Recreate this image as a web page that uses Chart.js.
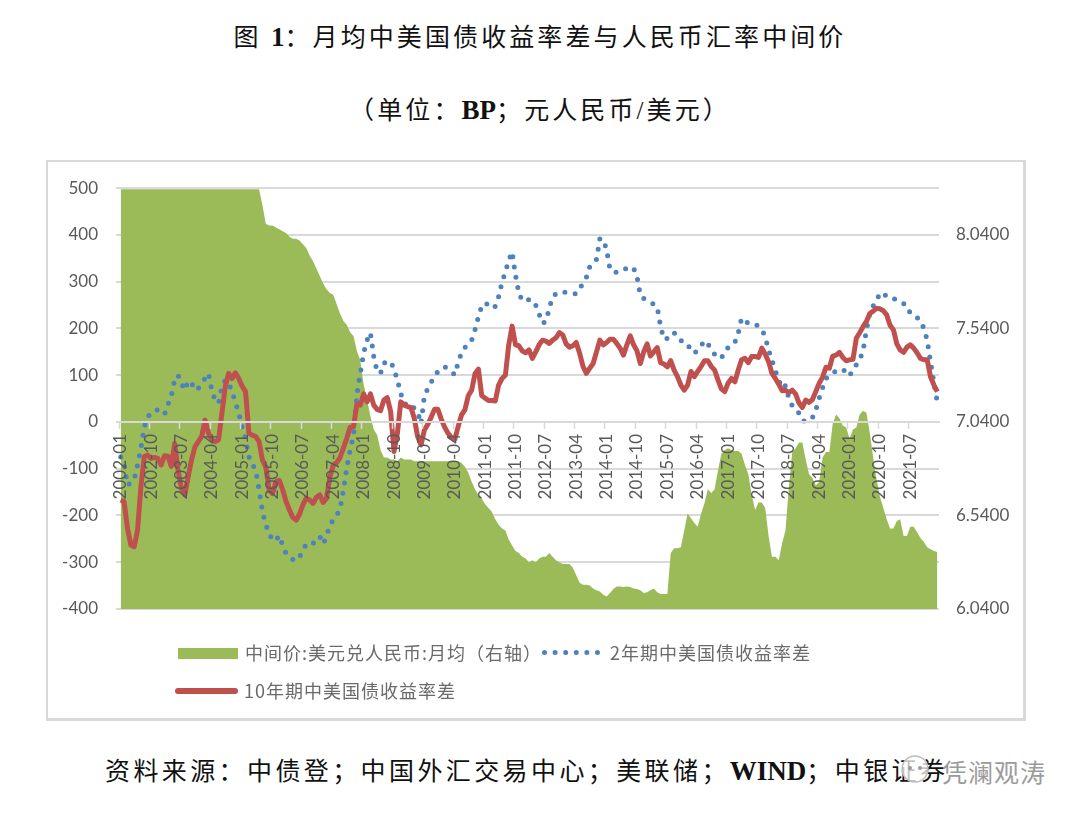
<!DOCTYPE html>
<html>
<head>
<meta charset="utf-8">
<script src="https://cdn.jsdelivr.net/npm/chart.js@4/dist/chart.umd.min.js"></script>
<style>
  body { margin: 0; background: #fff; }
  #page { position: relative; width: 1080px; height: 820px; overflow: hidden; background: #fff; }
  .head { position: absolute; left: 0; width: 1080px; text-align: center; white-space: nowrap; color: #111;
          font-family: "Liberation Serif", "Noto Sans CJK SC", serif; font-size: 25px; letter-spacing: 3.1px; }
  .head b { font-size: 27px; letter-spacing: 0; }
  #box { position: absolute; left: 46px; top: 160px; width: 975px; height: 556px; border: 2px solid #d9d9d9; border-width: 2px 3px 3px 2px; }
  #box canvas { display: block; position: absolute; left: 0; top: -2px; }
  .leg { position: absolute; color: #6a6a6a; font: 18px "Noto Sans CJK SC", sans-serif; letter-spacing: 1px; white-space: nowrap; }
  .sw { position: absolute; }
  #mark { position: absolute; left: 942px; top: 753px; color: #8a8a8a; opacity: .85; letter-spacing: 1px; font: 25px "Noto Sans CJK SC", sans-serif; white-space: nowrap; }
</style>
</head>
<body>
<div id="page">
  <div class="head" style="top:17px">图 <b>1</b>：月均中美国债收益率差与人民币汇率中间价</div>
  <div class="head" style="top:90px">（单位：<b>BP</b>；元人民币/美元）</div>
  <div id="box"><canvas id="chart" width="975" height="558"></canvas></div>
  <div class="sw" style="left:178px;top:648px;width:60px;height:11px;background:#9bbb59"></div>
  <div class="leg" id="leg0" style="left:245px;top:639px"></div>
  <div class="sw" style="left:542px;top:650px;width:58px;border-top:5px dotted #4f81bd"></div>
  <div class="leg" id="leg1" style="left:610px;top:639px"></div>
  <div class="sw" style="left:175px;top:688px;width:63px;height:6px;border-radius:3px;background:#c0504d"></div>
  <div class="leg" id="leg2" style="left:244px;top:677px"></div>
  <div class="head" style="top:751px;left:105px;width:auto;letter-spacing:3.4px">资料来源：中债登；中国外汇交易中心；美联储；<b>WIND</b>；中银证券</div>
  <svg style="position:absolute;left:897px;top:753px" width="42" height="36">
    <circle cx="18" cy="16" r="13" fill="rgba(255,255,255,.75)" stroke="#bdbdbd" stroke-width="1.5"/>
    <circle cx="13" cy="15" r="2" fill="#9a9a9a"/><circle cx="23" cy="15" r="2" fill="#9a9a9a"/>
  </svg>
  <div id="mark">凭澜观涛</div>
</div>
<script>
const months = [
  '2002-01','2002-02','2002-03','2002-04','2002-05','2002-06','2002-07','2002-08','2002-09','2002-10','2002-11','2002-12',
  '2003-01','2003-02','2003-03','2003-04','2003-05','2003-06','2003-07','2003-08','2003-09','2003-10','2003-11','2003-12',
  '2004-01','2004-02','2004-03','2004-04','2004-05','2004-06','2004-07','2004-08','2004-09','2004-10','2004-11','2004-12',
  '2005-01','2005-02','2005-03','2005-04','2005-05','2005-06','2005-07','2005-08','2005-09','2005-10','2005-11','2005-12',
  '2006-01','2006-02','2006-03','2006-04','2006-05','2006-06','2006-07','2006-08','2006-09','2006-10','2006-11','2006-12',
  '2007-01','2007-02','2007-03','2007-04','2007-05','2007-06','2007-07','2007-08','2007-09','2007-10','2007-11','2007-12',
  '2008-01','2008-02','2008-03','2008-04','2008-05','2008-06','2008-07','2008-08','2008-09','2008-10','2008-11','2008-12',
  '2009-01','2009-02','2009-03','2009-04','2009-05','2009-06','2009-07','2009-08','2009-09','2009-10','2009-11','2009-12',
  '2010-01','2010-02','2010-03','2010-04','2010-05','2010-06','2010-07','2010-08','2010-09','2010-10','2010-11','2010-12',
  '2011-01','2011-02','2011-03','2011-04','2011-05','2011-06','2011-07','2011-08','2011-09','2011-10','2011-11','2011-12',
  '2012-01','2012-02','2012-03','2012-04','2012-05','2012-06','2012-07','2012-08','2012-09','2012-10','2012-11','2012-12',
  '2013-01','2013-02','2013-03','2013-04','2013-05','2013-06','2013-07','2013-08','2013-09','2013-10','2013-11','2013-12',
  '2014-01','2014-02','2014-03','2014-04','2014-05','2014-06','2014-07','2014-08','2014-09','2014-10','2014-11','2014-12',
  '2015-01','2015-02','2015-03','2015-04','2015-05','2015-06','2015-07','2015-08','2015-09','2015-10','2015-11','2015-12',
  '2016-01','2016-02','2016-03','2016-04','2016-05','2016-06','2016-07','2016-08','2016-09','2016-10','2016-11','2016-12',
  '2017-01','2017-02','2017-03','2017-04','2017-05','2017-06','2017-07','2017-08','2017-09','2017-10','2017-11','2017-12',
  '2018-01','2018-02','2018-03','2018-04','2018-05','2018-06','2018-07','2018-08','2018-09','2018-10','2018-11','2018-12',
  '2019-01','2019-02','2019-03','2019-04','2019-05','2019-06','2019-07','2019-08','2019-09','2019-10','2019-11','2019-12',
  '2020-01','2020-02','2020-03','2020-04','2020-05','2020-06','2020-07','2020-08','2020-09','2020-10','2020-11','2020-12',
  '2021-01','2021-02','2021-03','2021-04','2021-05','2021-06','2021-07','2021-08','2021-09','2021-10','2021-11','2021-12',
  '2022-01','2022-02','2022-03'
];

// 中间价, right axis
const midRate = [
  8.285,8.285,8.285,8.285,8.285,8.285,8.285,8.285,8.285,8.285,8.285,8.285,
  8.285,8.285,8.285,8.285,8.285,8.285,8.285,8.285,8.285,8.285,8.285,8.285,
  8.285,8.285,8.285,8.285,8.285,8.285,8.285,8.285,8.285,8.285,8.285,8.285,
  8.285,8.285,8.285,8.285,8.285,8.285,8.20,8.10,8.09,8.09,8.08,8.07,
  8.06,8.05,8.03,8.02,8.02,8.01,7.99,7.97,7.93,7.90,7.86,7.82,
  7.78,7.75,7.73,7.72,7.67,7.62,7.58,7.56,7.52,7.50,7.42,7.37,
  7.24,7.16,7.07,7.00,6.97,6.89,6.85,6.85,6.84,6.84,6.83,6.85,
  6.84,6.84,6.84,6.83,6.83,6.83,6.83,6.83,6.83,6.83,6.83,6.83,
  6.83,6.83,6.83,6.83,6.83,6.82,6.80,6.77,6.72,6.68,6.65,6.63,
  6.60,6.58,6.56,6.52,6.49,6.47,6.46,6.41,6.38,6.35,6.34,6.32,
  6.31,6.29,6.30,6.29,6.31,6.32,6.32,6.34,6.32,6.30,6.29,6.28,
  6.28,6.28,6.26,6.22,6.18,6.17,6.17,6.165,6.15,6.14,6.134,6.116,
  6.107,6.125,6.147,6.16,6.16,6.157,6.16,6.157,6.15,6.147,6.14,6.125,
  6.13,6.14,6.15,6.13,6.12,6.12,6.12,6.34,6.365,6.365,6.37,6.46,
  6.55,6.525,6.50,6.48,6.55,6.605,6.68,6.66,6.68,6.78,6.87,6.89,
  6.90,6.89,6.885,6.885,6.87,6.81,6.76,6.65,6.57,6.61,6.61,6.58,
  6.43,6.32,6.32,6.30,6.39,6.46,6.69,6.88,6.90,6.93,6.93,6.84,
  6.76,6.74,6.70,6.72,6.85,6.88,6.88,7.03,7.08,7.06,7.02,7.01,
  6.95,7.00,7.01,7.08,7.10,7.09,6.98,6.85,6.73,6.64,6.58,6.52,
  6.47,6.47,6.51,6.52,6.43,6.43,6.48,6.48,6.45,6.42,6.40,6.37,
  6.36,6.35,6.345
];

// 2年期利差, BP
const spread2y = [
  -75,-88,-135,-131,-123,-92,-56,-11,10,21,24,26,
  21,16,37,56,90,100,83,68,88,84,68,72,
  83,93,104,68,47,40,76,90,83,65,42,19,
  -11,-35,-74,-90,-103,-145,-191,-220,-238,-254,-253,-243,
  -264,-281,-288,-294,-297,-288,-277,-260,-260,-260,-249,-245,
  -261,-245,-220,-210,-199,-187,-145,-98,-60,-28,58,103,
  148,175,191,140,108,104,126,128,130,113,90,61,
  40,36,38,29,21,-4,56,71,85,97,108,113,
  118,113,108,101,127,148,159,167,175,197,225,248,
  255,250,243,247,268,299,321,346,364,314,276,259,
  259,262,261,250,231,211,215,243,268,274,278,278,
  277,277,275,274,284,297,309,332,339,348,392,391,
  368,326,321,320,321,325,329,332,329,311,271,264,
  259,255,252,246,204,177,179,190,190,186,175,164,
  163,158,147,154,163,174,167,154,145,141,136,153,
  159,162,170,190,222,215,212,211,210,204,198,182,
  154,132,110,90,72,78,51,35,27,19,3,1,
  3,9,26,51,73,93,98,105,109,111,113,105,
  98,113,122,133,152,197,232,248,262,274,277,267,
  265,264,261,257,253,249,232,227,223,217,200,175,
  129,83,42
];

// 10年期利差, BP
const spread10y = [
  -167,-170,-227,-263,-267,-231,-138,-74,-71,-78,-76,-78,
  -92,-72,-73,-95,-46,-103,-142,-156,-117,-81,-53,-42,
  -31,4,-24,-38,-42,-38,19,76,104,93,105,93,
  76,65,-24,-28,-31,-42,-81,-96,-145,-153,-128,-125,
  -145,-170,-188,-204,-210,-197,-177,-163,-167,-174,-161,-156,
  -172,-163,-117,-92,-87,-76,-56,-35,-11,-10,38,36,
  60,43,60,36,27,24,47,52,22,-63,-24,43,
  36,33,31,8,-31,-49,-17,-5,10,27,27,6,
  -11,-24,-33,-37,-10,15,26,56,68,103,113,56,
  51,46,46,45,79,93,100,165,205,165,163,152,
  148,154,136,150,165,175,173,168,175,180,191,186,
  167,160,163,170,147,119,104,115,125,150,175,165,
  170,177,177,168,158,143,165,184,165,152,125,150,
  167,141,150,159,127,124,118,131,111,97,79,68,
  79,108,97,108,119,131,131,119,111,90,71,65,
  83,93,86,111,133,136,127,140,140,138,158,145,
  129,104,93,81,67,68,63,68,60,41,31,47,
  42,48,65,83,96,117,115,141,143,149,138,131,
  133,134,179,191,204,215,232,237,243,242,238,229,
  207,197,167,154,149,160,165,158,148,136,133,133,
  96,79,65
];

const leftTicks = [-400,-300,-200,-100,0,100,200,300,400,500];
const rightTicks = [6.04,6.54,7.04,7.54,8.04];
const seriesNames = ['中间价:美元兑人民币:月均（右轴）','2年期中美国债收益率差','10年期中美国债收益率差'];

seriesNames.forEach(function(name, i){
  document.getElementById('leg' + i).textContent = name;
});

const axisFont = { family: 'Lato', size: 17 };
const textColor = '#595959';
const gridColor = '#d9d9d9';

new Chart(document.getElementById('chart').getContext('2d'), {
  type: 'line',
  data: {
    labels: months,
    datasets: [
      {
        label: seriesNames[2],
        data: spread10y,
        yAxisID: 'y',
        borderColor: '#c0504d',
        borderWidth: 5,
        borderJoinStyle: 'round',
        pointRadius: 0,
        tension: 0,
        order: 1
      },
      {
        label: seriesNames[1],
        data: spread2y,
        yAxisID: 'y',
        borderColor: '#4f81bd',
        borderWidth: 5,
        borderDash: [0, 10.4],
        borderCapStyle: 'round',
        pointRadius: 0,
        tension: 0,
        order: 2
      },
      {
        label: seriesNames[0],
        data: midRate,
        yAxisID: 'y1',
        borderWidth: 0,
        backgroundColor: '#9bbb59',
        fill: 'start',
        pointRadius: 0,
        tension: 0,
        order: 3
      }
    ]
  },
  options: {
    responsive: false,
    animation: false,
    layout: { padding: { top: 21, bottom: 109 } },
    plugins: { legend: { display: false }, title: { display: false }, tooltip: { enabled: false } },
    scales: {
      x: {
        type: 'category',
        position: { y: 0 },
        offset: true,
        grid: {
          z: 1,
          offset: true,
          drawOnChartArea: false,
          tickLength: 6,
          tickWidth: 1.5,
          tickColor: function(ctx){ return ctx.index % 9 === 0 ? gridColor : 'transparent'; }
        },
        border: { z: 1, color: gridColor, width: 2 },
        ticks: {
          z: 1,
          autoSkip: false,
          minRotation: 90,
          maxRotation: 90,
          padding: 6,
          color: textColor,
          font: axisFont,
          callback: function(v, i){ return i % 9 === 0 ? months[i] : ''; }
        }
      },
      y: {
        min: -400,
        max: 500,
        afterBuildTicks: function(scale){ scale.ticks = leftTicks.map(function(v){ return { value: v }; }); },
        afterFit: function(scale){ scale.width = 71; },
        grid: { color: gridColor, lineWidth: 2, tickLength: 3 },
        border: { display: false },
        ticks: { color: textColor, font: axisFont, padding: 18 }
      },
      y1: {
        position: 'right',
        min: 6.04,
        max: 8.29,
        afterBuildTicks: function(scale){ scale.ticks = rightTicks.map(function(v){ return { value: v }; }); },
        afterFit: function(scale){ scale.width = 84; },
        grid: { display: false },
        border: { display: false },
        ticks: {
          color: textColor,
          font: axisFont,
          padding: 9,
          callback: function(v){ return Number(v).toFixed(4); }
        }
      }
    }
  }
});
</script>
</body>
</html>
